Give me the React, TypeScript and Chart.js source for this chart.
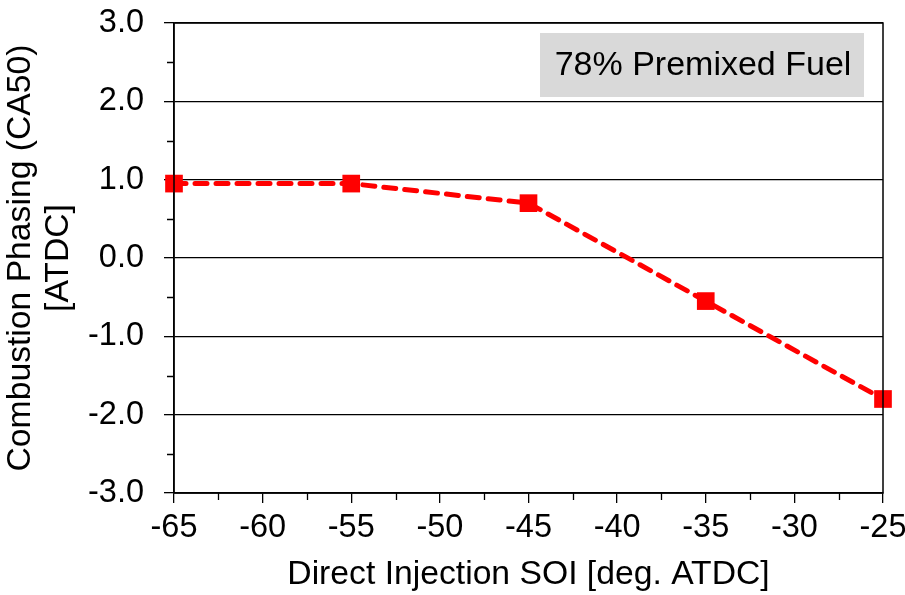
import { useEffect, useRef } from 'react';
import { Chart, registerables } from 'chart.js';

Chart.register(...registerables);

const soi = [-65, -55, -45, -35, -25];
const ca50 = [0.95, 0.95, 0.7, -0.55, -1.8];
const xRange = [-65, -25];
const yRange = [-3, 3];
const xMinorStep = 2.5;
const yMinorStep = 0.5;
const xTitle = 'Direct Injection SOI [deg. ATDC]';
const yTitle = ['Combustion Phasing (CA50)', '[ATDC]'];
const annotationText = '78% Premixed Fuel';

const FONT = "'Liberation Sans', Arial, sans-serif";

const framePlugin = {
  id: 'frame',
  beforeDatasetsDraw(chart: any) {
    const { ctx } = chart;
    ctx.save();
    const bx = 540, by = 33, bw = 324, bh = 64;
    ctx.fillStyle = '#d9d9d9';
    ctx.fillRect(bx, by, bw, bh);
    ctx.fillStyle = '#000';
    ctx.font = `34px ${FONT}`;
    ctx.textAlign = 'center';
    ctx.textBaseline = 'middle';
    ctx.fillText(annotationText, bx + bw / 2 + 1, by + bh / 2 + 1);
    ctx.restore();
  },
  afterDraw(chart: any) {
    const { ctx, chartArea, scales } = chart;
    ctx.save();
    ctx.strokeStyle = '#000';
    ctx.lineWidth = 1.5;
    ctx.strokeRect(chartArea.left, chartArea.top, chartArea.right - chartArea.left, chartArea.bottom - chartArea.top);
    ctx.lineWidth = 1.3;
    ctx.beginPath();
    for (let v = xRange[0] + xMinorStep; v < xRange[1]; v += 5) {
      const px = Math.round(scales.x.getPixelForValue(v)) + 0.5;
      ctx.moveTo(px, chartArea.bottom);
      ctx.lineTo(px, chartArea.bottom + 7);
    }
    for (let v = yRange[0] + yMinorStep; v < yRange[1]; v += 1) {
      const py = Math.round(scales.y.getPixelForValue(v)) + 0.5;
      ctx.moveTo(chartArea.left, py);
      ctx.lineTo(chartArea.left - 7, py);
    }
    ctx.stroke();
    ctx.restore();
  },
};

export default function App() {
  const ref = useRef<HTMLCanvasElement | null>(null);
  useEffect(() => {
    document.body.style.margin = '0';
    const chart = new Chart(ref.current as HTMLCanvasElement, {
      type: 'line',
      data: {
        datasets: [
          {
            data: soi.map((x, i) => ({ x, y: ca50[i] })),
            borderColor: '#ff0000',
            backgroundColor: '#ff0000',
            borderWidth: 5,
            borderDash: [12, 9],
            borderCapStyle: 'round',
            pointStyle: 'rect',
            pointRadius: 12.5,
            pointBorderWidth: 0,
            pointBackgroundColor: '#ff0000',
            clip: false as any,
          },
        ],
      },
      options: {
        animation: false,
        responsive: true,
        maintainAspectRatio: false,
        layout: { autoPadding: false, padding: { left: 0, top: 23, right: 22, bottom: 0 } },
        plugins: { legend: { display: false }, tooltip: { enabled: false } },
        scales: {
          x: {
            type: 'linear',
            min: xRange[0],
            max: xRange[1],
            afterFit: (s: any) => { s.height = 102; s.paddingLeft = 0; s.paddingRight = 0; },
            ticks: { stepSize: 5, color: '#000', font: { family: FONT, size: 32.5 }, padding: 6, maxRotation: 0 },
            grid: { drawOnChartArea: false, drawTicks: true, tickLength: 10, color: '#000', lineWidth: 1.3 },
            border: { display: true, color: '#000', width: 1.5 },
            title: { display: true, text: xTitle, color: '#000', font: { family: FONT, size: 33.7 }, padding: { top: 0, bottom: 0 } },
          },
          y: {
            type: 'linear',
            min: yRange[0],
            max: yRange[1],
            afterFit: (s: any) => { s.width = 174; s.paddingTop = 0; s.paddingBottom = 0; },
            ticks: { stepSize: 1, color: '#000', font: { family: FONT, size: 32.5 }, padding: 20, callback: (v: any) => Number(v).toFixed(1) },
            grid: { drawOnChartArea: true, drawTicks: true, tickLength: 10, color: '#000', lineWidth: 1.3 },
            border: { display: true, color: '#000', width: 1.5 },
            title: { display: true, text: yTitle, color: '#000', font: { family: FONT, size: 33.7, lineHeight: 1.13 }, padding: { top: 2, bottom: 0 } },
          },
        },
      },
      plugins: [framePlugin],
    });
    return () => chart.destroy();
  }, []);
  return (
    <div style={{ width: 905, height: 595, position: 'relative' }}>
      <canvas ref={ref} />
    </div>
  );
}
